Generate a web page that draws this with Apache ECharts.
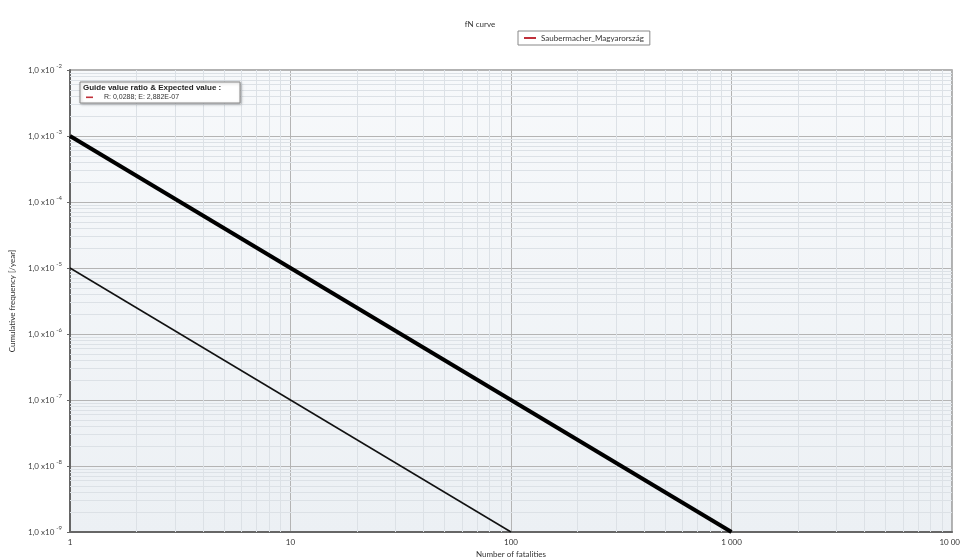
<!DOCTYPE html>
<html><head><meta charset="utf-8">
<script src="https://cdn.jsdelivr.net/npm/echarts@6/dist/echarts.min.js"></script>
<style>html,body{margin:0;padding:0;background:#fff}#c{width:960px;height:559px}</style>
</head><body><div id="c"></div>
<script>
// Data
const seriesName = 'Saubermacher_Magyarország';
const upperCriterion = [[1, 1e-3], [1000, 1e-9]];
const lowerCriterion = [[1, 1e-5], [100, 1e-9]];
const fnCurve = [];
const xTickLabels = {1: '1', 10: '10', 100: '100', 1000: '1 000', 10000: '10 000'};
const xRange = [1, 10000];
const yRange = [1e-9, 1e-2];
const xMinorDecades = [1, 10, 100, 1000];
const yMinorDecades = [1e-9, 1e-8, 1e-7, 1e-6, 1e-5, 1e-4, 1e-3];
const minorMultipliers = [2, 3, 4, 5, 6, 7, 8, 9];
const guideTitle = 'Guide value ratio & Expected value :';
const guideText = 'R: 0,0288; E: 2,882E-07';

const xMinor = [], yMinor = [];
xMinorDecades.forEach(d => minorMultipliers.forEach(m => xMinor.push([{coord: [d * m, yRange[0]]}, {coord: [d * m, yRange[1]]}])));
yMinorDecades.forEach(d => minorMultipliers.forEach(m => yMinor.push([{coord: [xRange[0], d * m]}, {coord: [xRange[1], d * m]}])));

const chart = echarts.init(document.getElementById('c'));
const font = 'Lato, "Liberation Sans", sans-serif';
const boxFont = '"Liberation Sans", Arial, sans-serif';
chart.setOption({
  animation: false,
  textStyle: {fontFamily: font},
  title: {text: 'fN curve', left: 'center', top: 15, textStyle: {fontSize: 8, fontWeight: 'normal', color: '#333', fontFamily: font}},
  legend: {
    data: [seriesName], top: 31, left: 518,
    borderColor: '#888', borderWidth: 1, padding: [3, 6, 3, 6],
    itemWidth: 12, itemHeight: 2, itemGap: 4, icon: 'rect',
    textStyle: {fontSize: 8, color: '#333', fontFamily: font}
  },
  grid: {left: 70, right: 8, top: 70, bottom: 27, show: true,
    outerBoundsMode: 'none', containLabel: false,
    borderColor: '#999', borderWidth: 1.5,
    backgroundColor: {type: 'linear', x: 0, y: 0, x2: 0, y2: 1,
      colorStops: [{offset: 0, color: '#f7f9fb'}, {offset: 1, color: '#ecf0f4'}]}
  },
  xAxis: {
    type: 'log', logBase: 10, min: xRange[0], max: xRange[1],
    name: 'Number of fatalities', nameLocation: 'middle', nameGap: 14,
    nameTextStyle: {fontSize: 8, color: '#333'},
    axisLine: {lineStyle: {color: '#666', width: 2}},
    axisTick: {show: false},
    axisLabel: {fontSize: 8, color: '#333', margin: 6, formatter: v => xTickLabels[Math.round(v)] || ''},
    splitLine: {lineStyle: {color: '#b4b4b4', width: 1}}
  },
  yAxis: {
    type: 'log', logBase: 10, min: yRange[0], max: yRange[1],
    name: 'Cumulative frequency [/year]', nameLocation: 'middle', nameGap: 54,
    nameTextStyle: {fontSize: 8, color: '#333'},
    axisLine: {lineStyle: {color: '#666', width: 2}},
    axisTick: {show: true, length: 3, lineStyle: {color: '#666'}},
    axisLabel: {
      fontSize: 8, color: '#444', margin: 8,
      formatter: v => '1,0 x10{s|' + Math.round(Math.log10(v)) + '}',
      rich: {s: {fontSize: 6, padding: [0, 0, 8, 2], color: '#444'}}
    },
    splitLine: {lineStyle: {color: '#b4b4b4', width: 1}}
  },
  series: [
    {type: 'line', name: '_minor', data: [], silent: true, z: 1,
      markLine: {silent: true, symbol: 'none', label: {show: false}, z: 1,
        lineStyle: {color: '#dce1e6', width: 1, type: 'solid'},
        data: xMinor.concat(yMinor)}},
    {type: 'line', name: seriesName, data: fnCurve, color: '#c0303a', showSymbol: false},
    {type: 'line', name: 'upper', data: upperCriterion, showSymbol: false,
      lineStyle: {color: '#000', width: 4}, z: 5},
    {type: 'line', name: 'lower', data: lowerCriterion, showSymbol: false,
      lineStyle: {color: '#111', width: 1.5}, z: 5}
  ],
  graphic: [
    {type: 'rect', z: 100, zlevel: 1, shape: {x: 80, y: 82, width: 160, height: 21},
      style: {fill: '#fff', stroke: '#888', lineWidth: 1, shadowBlur: 3, shadowColor: 'rgba(0,0,0,0.25)', shadowOffsetX: 1, shadowOffsetY: 1}},
    {type: 'text', z: 101, zlevel: 1, x: 83, y: 84, style: {text: guideTitle, font: 'bold 8px ' + boxFont, fill: '#222'}},
    {type: 'rect', z: 101, zlevel: 1, shape: {x: 86, y: 96.5, width: 7, height: 1.6}, style: {fill: '#c0303a'}},
    {type: 'text', z: 101, zlevel: 1, x: 104, y: 94, style: {text: guideText, font: '7px ' + boxFont, fill: '#333'}}
  ]
});
</script></body></html>
